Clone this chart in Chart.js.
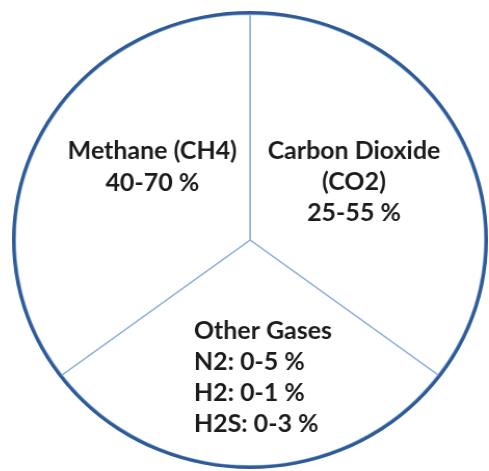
<!DOCTYPE html>
<html>
<head>
<meta charset="utf-8">
<script src="https://cdn.jsdelivr.net/npm/chart.js@4/dist/chart.umd.min.js"></script>
<style>
  html, body { margin: 0; padding: 0; background: #ffffff; }
  body { width: 489px; height: 471px; position: relative; overflow: hidden; }
</style>
</head>
<body>
<canvas id="biogas" width="458" height="458" style="position:absolute; left:12px; top:11px; width:476px; height:458px;"></canvas>
<script>
// Slices, clockwise from the top
const categories = ['Carbon Dioxide (CO2)', 'Other Gases', 'Methane (CH4)'];
const sliceShare = [35.2, 29.6, 35.2];
const outlineRing = [1];

// Text written inside each slice
const sliceText = [
  ['Carbon Dioxide', '(CO2)', '25-55 %'],
  ['Other Gases', 'N2: 0-5 %', 'H2: 0-1 %', 'H2S: 0-3 %'],
  ['Methane (CH4)', '40-70 %']
];

const FONT = 'bold 24px Lato, "Open Sans", sans-serif';

// Where each slice's text block sits, relative to the pie centre
const textLayout = [
  { dx: 100, dy: -89, align: 'center', gap: 31 },
  { dx: -54, dy: 91, align: 'left', gap: 31 },
  { dx: -94, dy: -89, align: 'center', gap: 32 }
];

const sliceLabels = {
  id: 'sliceLabels',
  afterDatasetsDraw(chart) {
    const meta = chart.getDatasetMeta(1);
    const ctx = chart.ctx;
    ctx.save();
    ctx.font = FONT;
    ctx.fillStyle = '#1c1c1c';
    ctx.textBaseline = 'middle';
    meta.data.forEach((arc, i) => {
      const lay = textLayout[i];
      ctx.textAlign = lay.align;
      sliceText[i].forEach((line, j) => {
        ctx.fillText(line, arc.x + lay.dx, arc.y + lay.dy + j * lay.gap);
      });
    });
    ctx.restore();
  }
};

new Chart(document.getElementById('biogas'), {
  type: 'pie',
  data: {
    labels: categories,
    datasets: [
      {
        data: outlineRing,
        backgroundColor: '#2f5b98',
        borderWidth: 0,
        weight: 3.2
      },
      {
        data: sliceShare,
        backgroundColor: '#ffffff',
        borderColor: '#8fb0dc',
        borderWidth: 1.5,
        weight: 225
      }
    ]
  },
  options: {
    responsive: false,
    animation: false,
    layout: { padding: 0 },
    plugins: {
      legend: { display: false },
      tooltip: { enabled: false }
    }
  },
  plugins: [sliceLabels]
});
</script>
</body>
</html>
